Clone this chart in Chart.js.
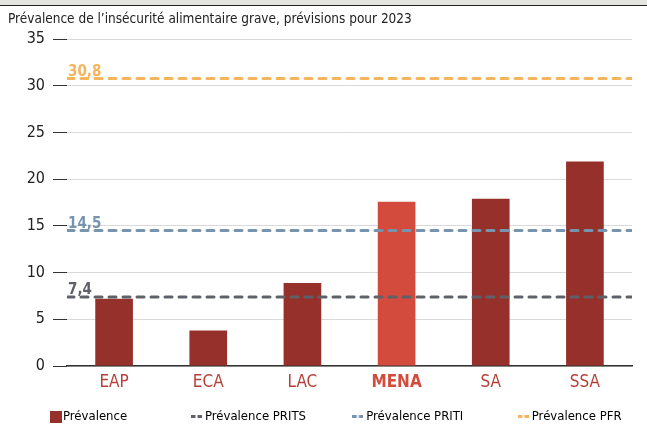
<!DOCTYPE html>
<html>
<head>
<meta charset="utf-8">
<script src="https://cdn.jsdelivr.net/npm/chart.js@4.4.0/dist/chart.umd.min.js"></script>
<style>
  body { margin: 0; background: #fff; }
  #bande { height: 5px; background: #e4e4e1; border-bottom: 1px solid #222; }
  #boite { position: relative; width: 647px; height: 420px; }
</style>
</head>
<body>
<div id="bande"></div>
<div id="boite"><canvas id="graphique"></canvas></div>
<script>
// donnees
var categories = ['EAP', 'ECA', 'LAC', 'MENA', 'SA', 'SSA'];
var prevalence = [7.2, 3.8, 8.9, 17.6, 17.9, 21.9];
var seuilNoms = ['Prévalence PRITS', 'Prévalence PRITI', 'Prévalence PFR'];
var seuilValeurs = [7.4, 14.5, 30.8];
var seuilTextes = ['7,4', '14,5', '30,8'];
var yTicks = [0, 5, 10, 15, 20, 25, 30, 35];

var rouge = '#95302a';
var rougeVif = '#d24b3c';
var couleursSeuils = ['#5e6268', '#7694ae', '#f6b55c'];
var police = "'DejaVu Sans Condensed', 'Liberation Sans Narrow', sans-serif";

Chart.defaults.font.family = police;
Chart.defaults.color = '#222';

var couleursBarres = categories.map(function (c) {
    return c === 'MENA' ? rougeVif : rouge;
});

var datasets = [{
    type: 'bar',
    label: 'Prévalence',
    data: prevalence,
    backgroundColor: couleursBarres,
    barPercentage: 0.4,
    categoryPercentage: 1,
    grouped: false,
    order: 2
}];

for (var i = 0; i < seuilValeurs.length; i++) {
    datasets.push({
        type: 'line',
        label: seuilNoms[i],
        xAxisID: 'x2',
        data: [{x: 0, y: seuilValeurs[i]}, {x: 1, y: seuilValeurs[i]}],
        borderColor: couleursSeuils[i],
        backgroundColor: couleursSeuils[i],
        borderWidth: 3,
        borderDash: [7, 7],
        borderCapStyle: 'round',
        pointRadius: 0,
        fill: false,
        order: 1
    });
}

// petits marqueurs de legende
function marqueur(couleur, carre) {
    var c = document.createElement('canvas');
    var g;
    if (carre) {
        c.width = 15; c.height = 12;
        g = c.getContext('2d');
        g.fillStyle = couleur;
        g.fillRect(3, 0, 12, 12);
    } else {
        c.width = 11; c.height = 3;
        g = c.getContext('2d');
        g.fillStyle = couleur;
        g.fillRect(0, 0, 4.5, 3);
        g.fillRect(6.5, 0, 4.5, 3);
    }
    return c;
}

// etiquettes des seuils (7,4 ; 14,5 ; 30,8)
var etiquettesSeuils = {
    id: 'etiquettesSeuils',
    afterDatasetsDraw: function (chart) {
        var ctx = chart.ctx;
        ctx.save();
        ctx.font = 'bold 15px ' + police;
        ctx.textAlign = 'left';
        ctx.textBaseline = 'bottom';
        for (var i = 1; i < chart.data.datasets.length; i++) {
            var pt = chart.getDatasetMeta(i).data[0];
            ctx.fillStyle = couleursSeuils[i - 1];
            ctx.fillText(seuilTextes[i - 1], pt.x + 1, pt.y + 1);
        }
        ctx.restore();
    }
};

// decalage de la legende (droite et bas)
var decaleLegende = {
    id: 'decaleLegende',
    afterLayout: function (chart) {
        chart.legend.left += 41.5;
        chart.legend.right += 41.5;
        chart.legend.top += 7;
        chart.legend.bottom += 7;
    }
};

var espaces = [
    '\u2003\u2003\u2003\u2003\u2003\u2002',
    '\u2003\u2003\u2003\u2003',
    '\u2003\u2003\u2003\u2003\u2002\u2009',
    ''
];

new Chart(document.getElementById('graphique'), {
    data: {labels: categories, datasets: datasets},
    plugins: [etiquettesSeuils, decaleLegende],
    options: {
        responsive: true,
        maintainAspectRatio: false,
        animation: false,
        layout: {padding: {left: 8, right: 15, top: 0, bottom: 0}},
        plugins: {
            title: {
                display: true,
                text: 'Prévalence de l\u2019insécurité alimentaire grave, prévisions pour 2023',
                align: 'start',
                color: '#222',
                font: {size: 13.5, weight: 'normal'},
                padding: {top: 5, bottom: 12}
            },
            legend: {
                position: 'bottom',
                align: 'start',
                labels: {
                    padding: 3,
                    boxWidth: 4,
                    boxHeight: 12,
                    usePointStyle: true,
                    color: '#222',
                    font: {size: 13},
                    generateLabels: function (chart) {
                        return chart.data.datasets.map(function (ds, i) {
                            var coul = i === 0 ? rouge : ds.borderColor;
                            return {
                                text: ds.label + espaces[i],
                                fillStyle: coul,
                                strokeStyle: coul,
                                lineWidth: 0,
                                pointStyle: marqueur(coul, i === 0),
                                datasetIndex: i
                            };
                        });
                    }
                }
            },
            tooltip: {enabled: false}
        },
        scales: {
            x: {
                type: 'category',
                grid: {display: false, drawTicks: false},
                border: {display: true, color: '#333', width: 1.5},
                afterFit: function (scale) { scale.height = 34; },
                ticks: {
                    padding: 6,
                    color: function (c) { return c.index === 3 ? rougeVif : '#b5403a'; },
                    font: function (c) { return {size: 17, weight: c.index === 3 ? 'bold' : 'normal'}; }
                }
            },
            x2: {
                type: 'linear',
                min: 0,
                max: 1,
                display: false
            },
            y: {
                min: 0,
                max: 35,
                afterBuildTicks: function (scale) {
                    scale.ticks = yTicks.map(function (v) { return {value: v}; });
                },
                afterFit: function (scale) { scale.width = 59; },
                border: {display: false},
                grid: {color: '#d9d9d9', tickColor: '#333', tickLength: 14, lineWidth: 1},
                ticks: {padding: 8, color: '#222', font: {size: 16}}
            }
        }
    }
});
</script>
</body>
</html>
